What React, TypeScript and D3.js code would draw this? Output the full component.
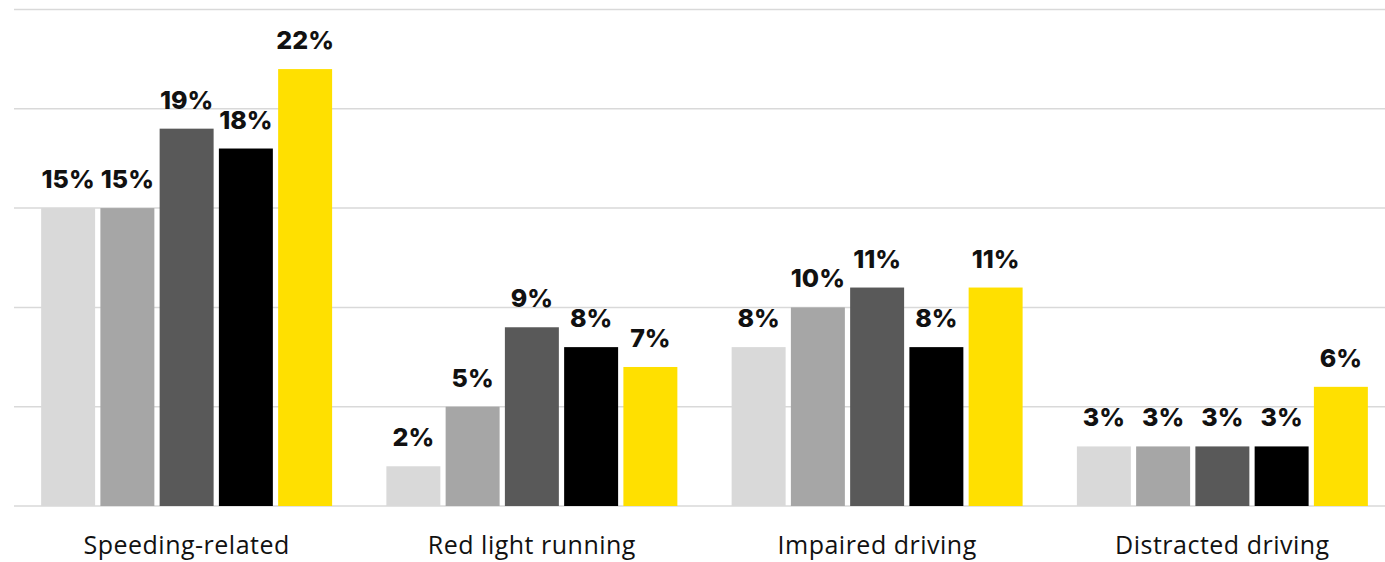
import React from "react";
import * as d3 from "d3";

const categories = ["Speeding-related", "Red light running", "Impaired driving", "Distracted driving"];
const seriesKeys = ["s1", "s2", "s3", "s4", "s5"];
const seriesColors = ["#d9d9d9", "#a6a6a6", "#595959", "#000000", "#ffe000"];
const series1 = [15, 2, 8, 3];
const series2 = [15, 5, 10, 3];
const series3 = [19, 9, 11, 3];
const series4 = [18, 8, 8, 3];
const series5 = [22, 7, 11, 6];
const yTicks = [0, 5, 10, 15, 20, 25];

const allSeries = [series1, series2, series3, series4, series5];

export default function App() {
  const W = 1385;
  const H = 562;
  const x0 = d3.scaleBand<string>().domain(categories).range([14, 1395]).padding(0);
  const x1 = d3
    .scaleBand<string>()
    .domain(seriesKeys)
    .range([0, x0.bandwidth()])
    .paddingInner(0.089)
    .paddingOuter(0.458);
  const y = d3.scaleLinear().domain([0, 25]).range([506, 9.5]);

  return (
    <svg
      width={W}
      height={H}
      style={{ position: "fixed", left: 0, top: 0, background: "#fff" }}
    >
      {yTicks.map((t) => (
        <line
          key={t}
          x1={14}
          x2={1395}
          y1={y(t)}
          y2={y(t)}
          stroke="#d9d9d9"
          strokeWidth={1.5}
        />
      ))}
      {categories.map((c, ci) => (
        <g key={c} transform={`translate(${x0(c)},0)`}>
          {seriesKeys.map((k, si) => {
            const v = allSeries[si][ci];
            const bx = x1(k)!;
            return (
              <g key={k}>
                <rect
                  x={bx}
                  y={y(v)}
                  width={x1.bandwidth()}
                  height={y(0) - y(v)}
                  fill={seriesColors[si]}
                />
                <text
                  x={bx + x1.bandwidth() / 2}
                  y={y(v) - 20}
                  textAnchor="middle"
                  fontFamily="Inter, Lato, sans-serif"
                  fontWeight={800}
                  fontSize={25}
                  fill="#111"
                >
                  {v}%
                </text>
              </g>
            );
          })}
          <text
            x={x0.bandwidth() / 2}
            y={554}
            textAnchor="middle"
            fontFamily="'Open Sans', sans-serif"
            fontSize={25}
            letterSpacing={0.5}
            fill="#111"
          >
            {c}
          </text>
        </g>
      ))}
    </svg>
  );
}
